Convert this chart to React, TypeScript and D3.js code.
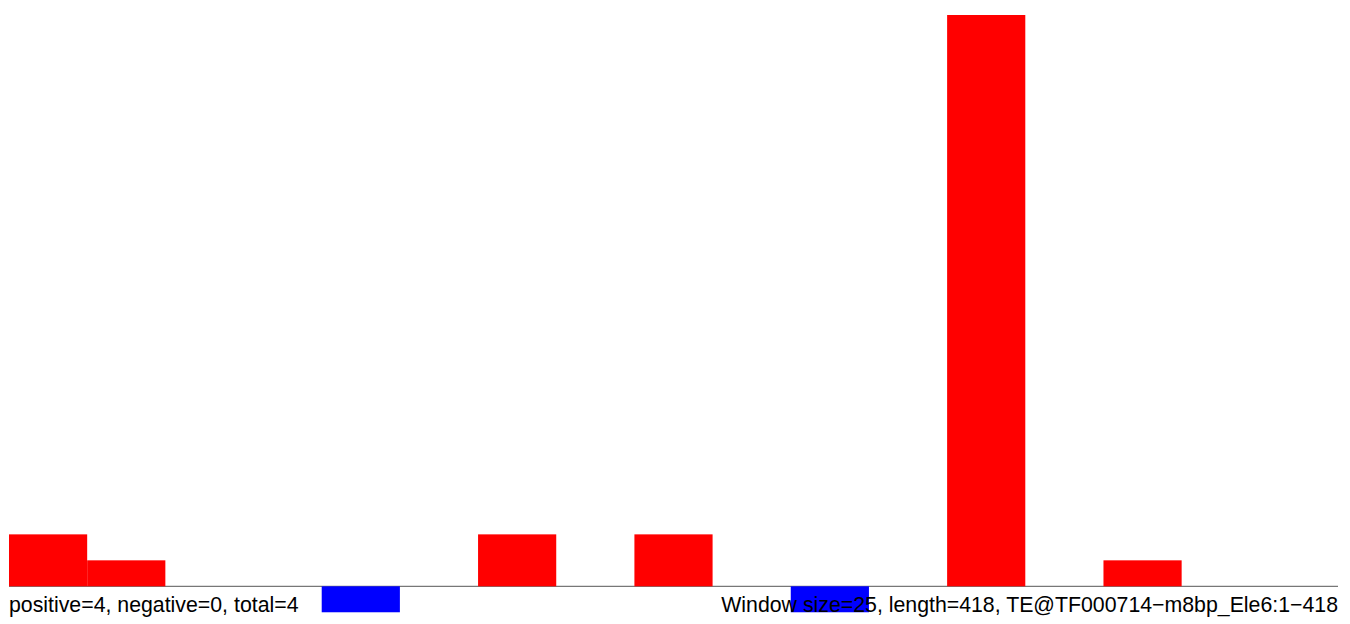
import React from "react";
import * as d3 from "d3";

const windows = d3.range(17);
const values = [2, 1, 0, 0, -1, 0, 2, 0, 2, 0, -1, 0, 22, 0, 1, 0, 0];
const leftLabel = "positive=4, negative=0, total=4";
const rightLabel = "Window size=25, length=418, TE@TF000714\u2212m8bp_Ele6:1\u2212418";

const W = 1350;
const H = 624;

export default function App() {
  const x = d3.scaleBand<number>().domain(windows).range([9, 1338]).padding(0);
  const y = d3.scaleLinear().domain([0, 22]).range([586.3, 15]);
  const font = "'Liberation Sans', Arial, sans-serif";
  return (
    <svg width={W} height={H} style={{ position: "absolute", left: 0, top: 0 }}>
      <rect x={0} y={0} width={W} height={H} fill="#fff" />
      <line x1={9} x2={1338} y1={586.3} y2={586.3} stroke="#555" strokeWidth={1} />
      {values.map((v, i) =>
        v === 0 ? null : (
          <rect
            key={i}
            x={x(i)}
            width={x.bandwidth()}
            y={Math.min(y(v), y(0))}
            height={Math.abs(y(v) - y(0))}
            fill={v > 0 ? "#ff0000" : "#0000ff"}
          />
        )
      )}
      <text x={9} y={612} fontFamily={font} fontSize={21.3} fill="#000">
        {leftLabel}
      </text>
      <text x={1338} y={612} textAnchor="end" fontFamily={font} fontSize={21.3} fill="#000">
        {rightLabel}
      </text>
    </svg>
  );
}
